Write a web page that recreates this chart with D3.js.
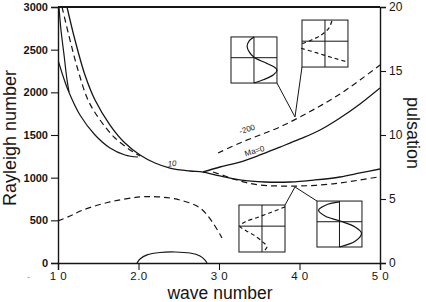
<!DOCTYPE html>
<html><head><meta charset="utf-8">
<script src="https://cdn.jsdelivr.net/npm/d3@7"></script>
<style>body{margin:0;background:#fff}svg{display:block}</style>
</head><body><svg id="c" width="426" height="302"></svg>
<script>
// ---------- axis ticks ----------
const waveTicks = [10, 20, 30, 40, 50];
const waveTickLabels = ["1 0", "2.0", "3 0", "4 0", "5 0"];
const rayleighTicks = [0, 500, 1000, 1500, 2000, 2500, 3000];
const pulsationTicks = [0, 5, 10, 15, 20];

// ---------- Rayleigh-number curves ----------
const loopLowerK = [10, 10.62, 11.24, 12.73, 14.6, 16.46, 18.32, 19.94];
const loopLowerR = [2379, 2191, 2027, 1734, 1500, 1348, 1266, 1242];

const loopTopK = [10.12, 10.37, 10.75, 11.12, 11.37];
const loopTopR = [3000, 2730, 2438, 2145, 2004];

const dashedUpperK = [10.5, 11.49, 12.48, 13.73, 15.22, 17.08, 19.32, 20.19];
const dashedUpperR = [3000, 2613, 2262, 1910, 1676, 1465, 1301, 1254];

const ma10K = [11.12, 12.11, 13.35, 14.6, 16.46, 18.32, 20.19, 22.05, 23.91, 26.4, 28.01, 30.12, 32.61, 35.71, 38.82, 41.93, 45.03, 47.52, 50];
const ma10R = [3000, 2613, 2203, 1910, 1617, 1406, 1266, 1172, 1113, 1078, 1066, 1020, 973, 949, 949, 973, 1008, 1055, 1102];

const ma200StatK = [29.25, 30.75, 32.61, 35.09, 39.69, 42.55, 45.03, 47.52, 49.75];
const ma200StatR = [1066, 1020, 961, 914, 902, 914, 938, 973, 1008];

// ---------- pulsation curves ----------
const ma0PulsK = [28.01, 30.12, 32.61, 35.09, 37.58, 40.06, 42.55, 45.03, 47.52, 50];
const ma0PulsP = [7.11, 7.5, 7.89, 8.44, 9.06, 9.69, 10.39, 11.33, 12.42, 13.67];

const ma200PulsK = [29.88, 32.61, 35.09, 37.58, 40.06, 42.55, 45.03, 47.52, 50];
const ma200PulsP = [8.59, 9.38, 10.0, 10.63, 11.41, 12.27, 13.2, 14.3, 15.47];

const lowPulsK = [10, 11.49, 13.11, 16.46, 20.19, 22.67, 25.16, 27.64, 29.25, 30.37];
const lowPulsP = [3.28, 3.67, 4.14, 4.77, 5.16, 5.16, 4.92, 4.30, 3.13, 1.95];

const humpK = [19.81, 20.19, 21.06, 22.67, 24.53, 26.4, 27.64, 28.26, 28.51];
const humpP = [0, 0.31, 0.63, 0.82, 0.86, 0.78, 0.55, 0.23, 0];

// ---------- eigenfunction insets (box corners in k / pulsation units) ----------
const insetK0 = [31.49, 40.31, 32.48, 42.17];
const insetK1 = [37.2, 46.02, 38.2, 47.76];
const insetPTop = [17.66, 18.98, 4.53, 4.84];
const insetPBot = [14.06, 15.31, 0.86, 1.25];
const insetDashed = [false, true, true, false];
const insetProfiles = [
  [[[0,0],[-0.2,0.08],[-0.3,0.2],[-0.2,0.33],[0,0.44],[0.5,0.56],[0.9,0.66],[1,0.72],[0.85,0.82],[0.4,0.93],[0,1]]],
  [[[0.3,0.02],[0.17,0.17],[-0.17,0.32],[-0.61,0.43],[-1.04,0.51]], [[-1.04,0.6],[-0.35,0.7],[0.39,0.81],[0.96,0.89]]],
  [[[1,0.04],[0.43,0.15],[-0.17,0.26],[-0.74,0.36],[-0.96,0.45],[-0.74,0.53],[-0.3,0.66],[0.04,0.79],[0.22,0.89],[0.04,1]]],
  [[[0,0.02],[-0.62,0.09],[-0.93,0.2],[-0.62,0.33],[0,0.43],[0.71,0.57],[0.98,0.7],[0.71,0.87],[0,1]]]
];
// pointer apexes on curves
const pointerK = [39.44, 39.44];
const pointerP = [11.41, 5.94];

// ---------- curve labels ----------
const labelText = ["10", "Ma=0", "-200"];
const labelK = [24.2, 34.5, 33.6];
const labelP = [7.55, 8.55, 10.25];
const labelAngle = [-6, -17, -18];

// ---------- drawing ----------
const svg = d3.select("#c");
const ink = "#151515";
const x = d3.scaleLinear().domain([10, 50]).range([58, 380]);
const yR = d3.scaleLinear().domain([0, 3000]).range([263, 7]);
const yP = d3.scaleLinear().domain([0, 20]).range([263, 7]);

svg.append("defs").append("clipPath").attr("id", "plot")
  .append("rect").attr("x", x(10)).attr("y", yR(3000)).attr("width", x(50) - x(10)).attr("height", yR(0) - yR(3000));

const tickFont = "'Liberation Sans', Arial, sans-serif";

// left axis
const gL = svg.append("g").attr("transform", `translate(${x(10)},0)`);
gL.call(d3.axisLeft(yR).tickValues(d3.range(0, 3001, 100)).tickSize(4).tickFormat(""));
gL.call(d3.axisLeft(yR).tickValues(rayleighTicks).tickSize(7).tickPadding(3).tickFormat(d3.format("d")));
// right axis
const gR = svg.append("g").attr("transform", `translate(${x(50)},0)`);
gR.call(d3.axisRight(yP).tickValues(d3.range(0, 21, 1)).tickSize(4).tickFormat(""));
gR.call(d3.axisRight(yP).tickValues(pulsationTicks).tickSize(6).tickPadding(3).tickFormat(d3.format("d")));
// bottom axis
const gB = svg.append("g").attr("transform", `translate(0,${yR(0)})`);
gB.call(d3.axisBottom(x).tickValues(d3.range(10, 51, 2)).tickSize(5).tickFormat(""));
gB.call(d3.axisBottom(x).tickValues(waveTicks).tickSize(7).tickPadding(2).tickFormat((d, i) => waveTickLabels[i]));

svg.selectAll(".domain").attr("stroke", ink).attr("stroke-width", 1.4);
svg.selectAll(".tick line").attr("stroke", ink).attr("stroke-width", 1.1);
svg.selectAll(".tick text").attr("fill", ink).attr("font-family", tickFont)
  .attr("font-size", 11).attr("font-weight", "bold");
gR.selectAll(".tick text").attr("font-size", 12).attr("font-weight", "normal");
gB.selectAll(".tick text").attr("font-size", 11.5).attr("font-weight", "normal").attr("letter-spacing", 0.5);

// top frame line
svg.append("line").attr("x1", x(10)).attr("x2", x(50)).attr("y1", yR(3000)).attr("y2", yR(3000))
  .attr("stroke", ink).attr("stroke-width", 1.8);

// axis titles
svg.append("text").attr("transform", `translate(16,${(yR(0)+yR(3000))/2 + 3}) rotate(-90)`)
  .attr("text-anchor", "middle").attr("font-family", tickFont).attr("font-size", 18).attr("fill", ink)
  .text("Rayleigh number");
svg.append("text").attr("transform", `translate(407,${(yP(0)+yP(20))/2 - 2}) rotate(90)`)
  .attr("text-anchor", "middle").attr("font-family", tickFont).attr("font-size", 18).attr("fill", ink)
  .text("pulsation");
svg.append("text").attr("x", (x(10)+x(50))/2 + 1).attr("y", 299)
  .attr("text-anchor", "middle").attr("font-family", tickFont).attr("font-size", 17.5).attr("fill", ink)
  .text("wave number");
svg.append("text").attr("x", 27).attr("y", 280).attr("font-family", tickFont).attr("font-size", 9)
  .attr("fill", "#888").text("-");

// curves
const plot = svg.append("g").attr("clip-path", "url(#plot)");
function drawCurve(ks, vs, yScale, dashed, w) {
  const pts = ks.map((k, i) => [x(k), yScale(vs[i])]);
  plot.append("path").attr("d", d3.line().curve(d3.curveCatmullRom.alpha(0.5))(pts))
    .attr("fill", "none").attr("stroke", ink).attr("stroke-width", w || 1.2)
    .attr("stroke-dasharray", dashed ? "6,4" : null);
}
drawCurve(loopLowerK, loopLowerR, yR, false);
drawCurve(loopTopK, loopTopR, yR, false);
drawCurve(dashedUpperK, dashedUpperR, yR, true);
drawCurve(ma10K, ma10R, yR, false, 1.3);
drawCurve(ma200StatK, ma200StatR, yR, true);
drawCurve(ma0PulsK, ma0PulsP, yP, false, 1.3);
drawCurve(ma200PulsK, ma200PulsP, yP, true);
drawCurve(lowPulsK, lowPulsP, yP, true);
drawCurve(humpK, humpP, yP, false);

// curve labels
labelText.forEach((t, i) => {
  svg.append("text").attr("transform", `translate(${x(labelK[i])},${yP(labelP[i])}) rotate(${labelAngle[i]})`)
    .attr("text-anchor", "middle").attr("font-family", tickFont).attr("font-size", 8)
    .attr("font-style", i === 0 ? "italic" : "normal").attr("fill", ink).text(t);
});

// insets
const gI = svg.append("g").attr("stroke", ink).attr("fill", "none");
insetK0.forEach((k0, i) => {
  const sx = d3.scaleLinear().domain([-1, 1]).range([x(k0), x(insetK1[i])]);
  const sy = d3.scaleLinear().domain([0, 1]).range([yP(insetPTop[i]), yP(insetPBot[i])]);
  const g = gI.append("g");
  g.append("rect").attr("x", sx(-1)).attr("y", sy(0)).attr("width", sx(1) - sx(-1)).attr("height", sy(1) - sy(0))
    .attr("fill", "#fff").attr("stroke-width", 1);
  g.append("line").attr("x1", sx(-1)).attr("x2", sx(1)).attr("y1", sy(0.45)).attr("y2", sy(0.45)).attr("stroke-width", 1);
  g.append("line").attr("x1", sx(0)).attr("x2", sx(0)).attr("y1", sy(0)).attr("y2", sy(1)).attr("stroke-width", 1);
  insetProfiles[i].forEach(seg => {
    g.append("path").attr("d", d3.line().curve(d3.curveCatmullRom)(seg.map(p => [sx(p[0]), sy(p[1])])))
      .attr("stroke-width", 1.2).attr("stroke-dasharray", insetDashed[i] ? "4,3" : null);
  });
});
// pointer lines
const cornerK = [insetK1[0], insetK0[1], insetK1[2], insetK0[3]];
const cornerP = [insetPBot[0], insetPBot[1], insetPTop[2], insetPTop[3]];
cornerK.forEach((k, i) => {
  const a = i < 2 ? 0 : 1;
  gI.append("line").attr("x1", x(k)).attr("y1", yP(cornerP[i]))
    .attr("x2", x(pointerK[a])).attr("y2", yP(pointerP[a])).attr("stroke-width", 1);
});
</script></body></html>
